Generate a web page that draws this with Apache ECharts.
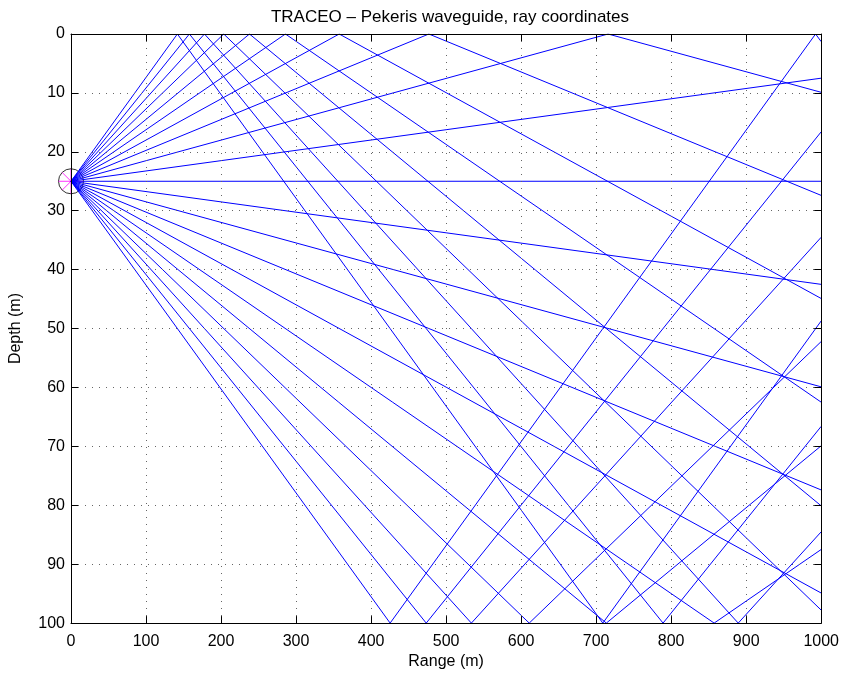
<!DOCTYPE html>
<html>
<head>
<meta charset="utf-8">
<script src="https://cdn.jsdelivr.net/npm/echarts@6/dist/echarts.min.js"></script>
<style>
  html, body { margin: 0; padding: 0; background: #fff; overflow: hidden; }
  #chart { width: 842px; height: 675px; }
</style>
</head>
<body>
<div id="chart"></div>
<script>
// launch angles (deg), positive = upgoing
var rayAngles = [10, 9, 8, 7, 6, 5, 4, 3, 2, 1, 0, -1, -2, -3, -4, -5, -6, -7, -8, -9, -10];

// ray turning points: range (m)
var rayRange = [
  [0, 141.8, 708.9, 1000],
  [0, 157.8, 789.2, 1000],
  [0, 177.9, 889.4, 1000],
  [0, 203.6, 1000],
  [0, 237.9, 1000],
  [0, 285.8, 1000],
  [0, 357.5, 1000],
  [0, 477.0, 1000],
  [0, 715.9, 1000],
  [0, 1000],
  [0, 1000],
  [0, 1000],
  [0, 1000],
  [0, 1000],
  [0, 1000],
  [0, 857.3, 1000],
  [0, 713.6, 1000],
  [0, 610.8, 1000],
  [0, 533.7, 1000],
  [0, 473.5, 1000],
  [0, 425.4, 992.5, 1000]
];

// ray turning points: depth (m)
var rayDepth = [
  [25, 0, 100, 48.7],
  [25, 0, 100, 66.6],
  [25, 0, 100, 84.5],
  [25, 0, 97.8],
  [25, 0, 80.1],
  [25, 0, 62.5],
  [25, 0, 44.9],
  [25, 0, 27.4],
  [25, 0, 9.9],
  [25, 7.5],
  [25, 25],
  [25, 42.5],
  [25, 59.9],
  [25, 77.4],
  [25, 94.9],
  [25, 100, 87.5],
  [25, 100, 69.9],
  [25, 100, 52.2],
  [25, 100, 34.5],
  [25, 100, 16.6],
  [25, 100, 0, 1.3]
];

var source = [0, 25];

var font = 'Liberation Sans, Arial, Helvetica, sans-serif';

var series = [
  {
    type: 'scatter',
    clip: false,
    symbol: 'circle',
    symbolSize: 25,
    itemStyle: { color: 'rgba(0,0,0,0)', borderColor: '#000', borderWidth: 1 },
    data: [source],
    z: 1
  },
  {
    type: 'scatter',
    clip: false,
    symbol: 'path://M0,10L20,10M10,0L10,20M2.93,2.93L17.07,17.07M2.93,17.07L17.07,2.93',
    symbolSize: 25,
    itemStyle: { color: 'rgba(0,0,0,0)', borderColor: '#ff00ff', borderWidth: 1 },
    data: [source],
    z: 1
  }
];

rayAngles.forEach(function (a, i) {
  var pts = rayRange[i].map(function (x, j) { return [x, rayDepth[i][j]]; });
  series.push({
    name: a + '°',
    type: 'line',
    data: pts,
    showSymbol: false,
    symbol: 'none',
    lineStyle: { color: '#0000ff', width: 1 },
    z: 3
  });
});

function plain(v) { return String(v); }

var chart = echarts.init(document.getElementById('chart'));
chart.setOption({
  animation: false,
  backgroundColor: '#fff',
  title: {
    text: 'TRACEO – Pekeris waveguide, ray coordinates',
    left: 445,
    textAlign: 'center',
    top: 4,
    textStyle: { fontFamily: font, fontSize: 17, fontWeight: 'normal', color: '#000' }
  },
  grid: { left: 69, top: 34, width: 754, height: 594, containLabel: false },
  xAxis: [
    {
      type: 'value', min: 0, max: 1000, interval: 100,
      name: 'Range (m)', nameLocation: 'middle', nameGap: 29,
      nameTextStyle: { fontFamily: font, fontSize: 16, color: '#000' },
      axisLine: { onZero: false, lineStyle: { color: '#000', width: 1 } },
      axisTick: { inside: true, length: 7, lineStyle: { color: '#000' } },
      axisLabel: { fontFamily: font, fontSize: 16, color: '#000', margin: 10, formatter: plain },
      splitLine: { show: true, lineStyle: { color: '#666', width: 1, type: [1, 6] } },
      z: 5
    },
    {
      type: 'value', position: 'top', min: 0, max: 1000, interval: 100,
      axisLine: { onZero: false, lineStyle: { color: '#000', width: 1 } },
      axisTick: { inside: true, length: 7, lineStyle: { color: '#000' } },
      axisLabel: { show: false },
      splitLine: { show: false },
      z: 5
    }
  ],
  yAxis: [
    {
      type: 'value', inverse: true, min: 0, max: 100, interval: 10,
      name: 'Depth (m)', nameLocation: 'middle', nameGap: 47, nameRotate: 90,
      nameTextStyle: { fontFamily: font, fontSize: 16, color: '#000' },
      axisLine: { onZero: false, lineStyle: { color: '#000', width: 1 } },
      axisTick: { inside: true, length: 7, lineStyle: { color: '#000' } },
      axisLabel: { fontFamily: font, fontSize: 16, color: '#000', margin: 6, formatter: plain },
      splitLine: { show: true, lineStyle: { color: '#666', width: 1, type: [1, 6] } },
      z: 5
    },
    {
      type: 'value', position: 'right', inverse: true, min: 0, max: 100, interval: 10,
      axisLine: { onZero: false, lineStyle: { color: '#000', width: 1 } },
      axisTick: { inside: true, length: 7, lineStyle: { color: '#000' } },
      axisLabel: { show: false },
      splitLine: { show: false },
      z: 5
    }
  ],
  series: series
});
</script>
</body>
</html>
